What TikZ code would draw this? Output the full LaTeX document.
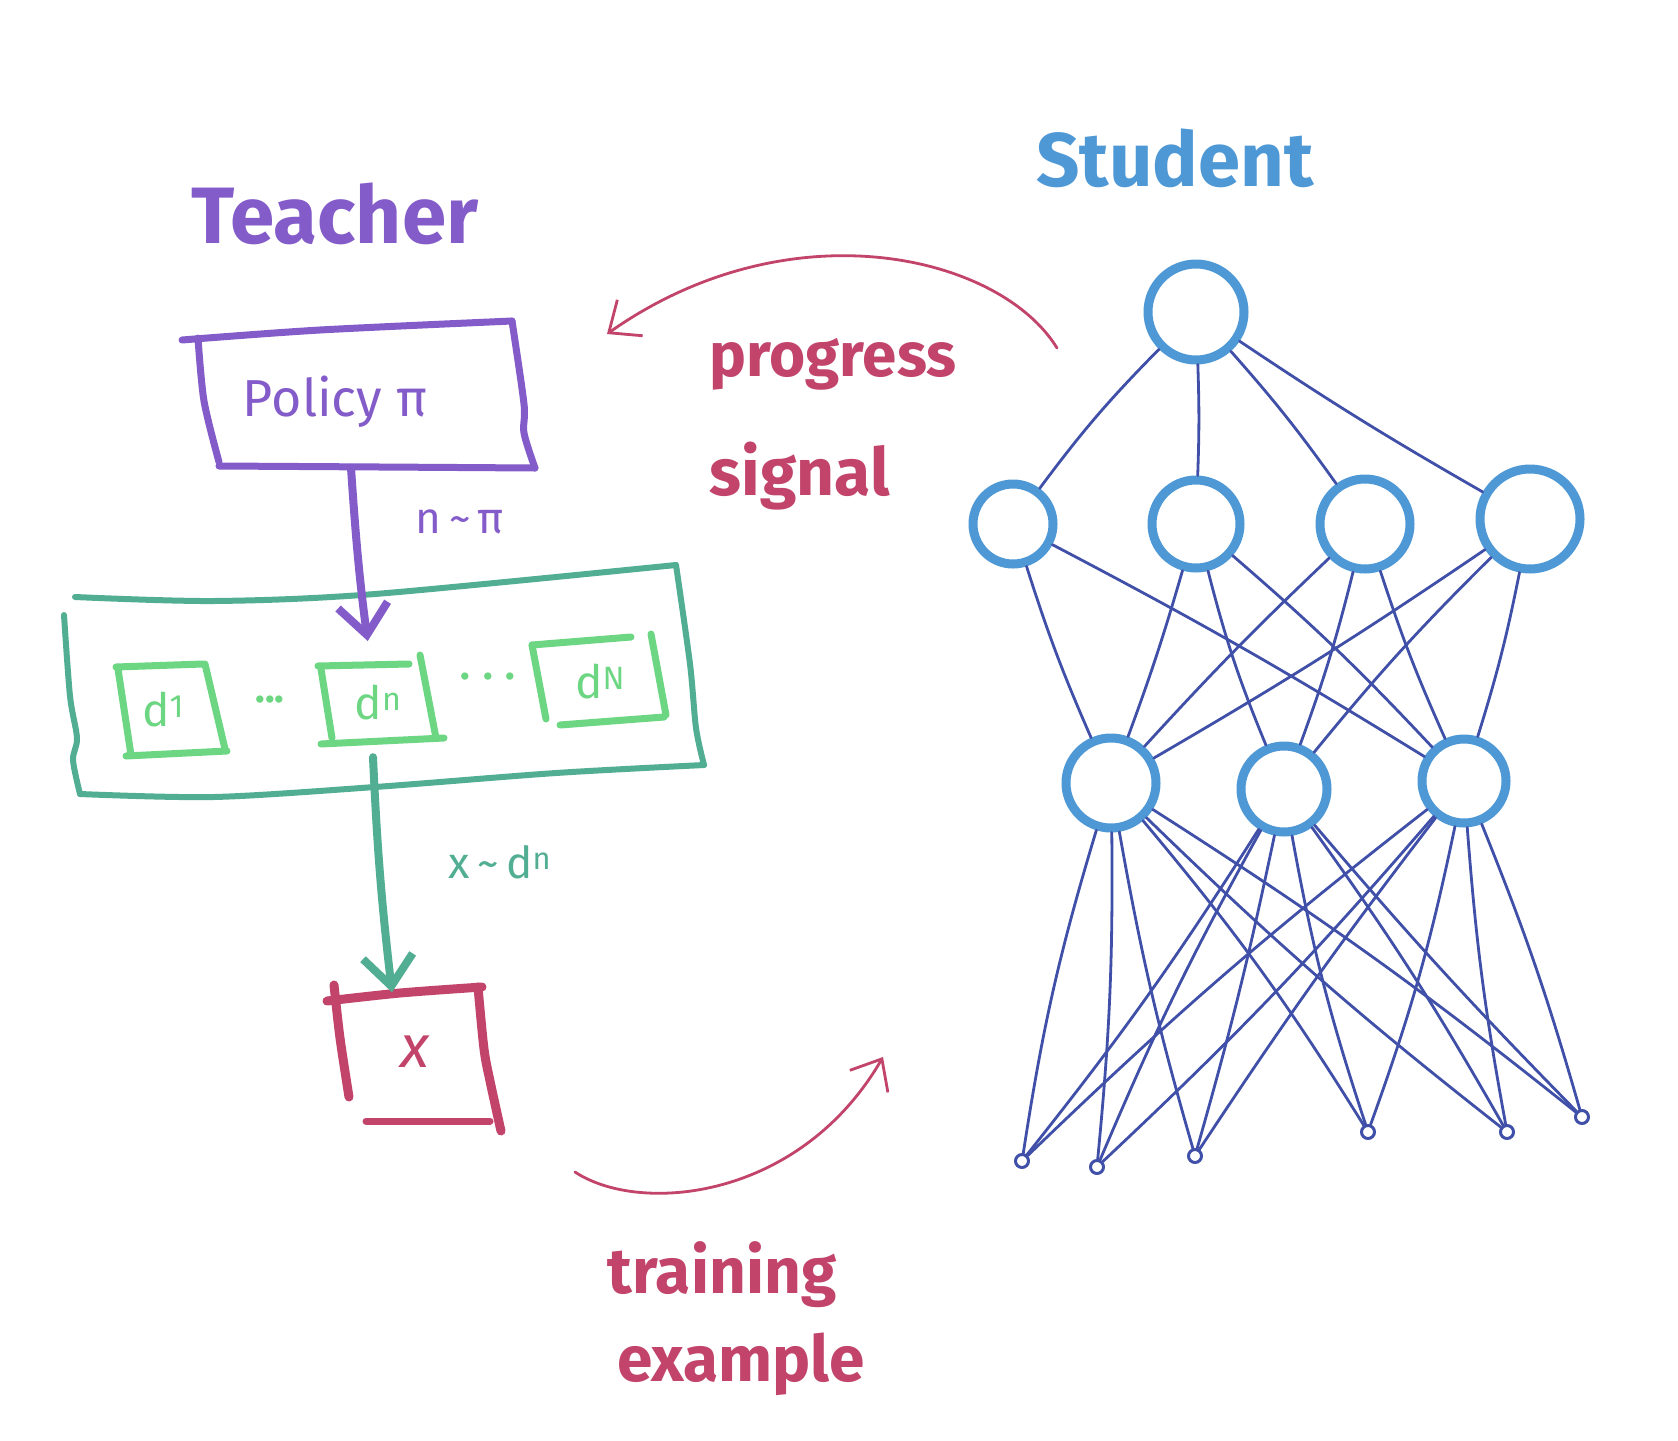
\documentclass[tikz,border=0pt]{standalone}
\usepackage{fontspec}
\setmainfont{Fira Sans}
\usetikzlibrary{arrows.meta,calc}
\definecolor{tpurple}{HTML}{845CC9}
\definecolor{sblue}{HTML}{4E98D5}
\definecolor{edgeblue}{HTML}{4050A8}
\definecolor{dgreen}{HTML}{52AE92}
\definecolor{lgreen}{HTML}{6DD683}
\definecolor{crim}{HTML}{C2446B}
\begin{document}
\begin{tikzpicture}[x=1pt,y=-1pt,line cap=round,line join=round,
  neuron/.style={circle,draw=sblue,line width=9pt,inner sep=0pt,minimum size=#1},
  leaf/.style={circle,draw=edgeblue,line width=3pt,inner sep=0pt,minimum size=13pt},
  nnedge/.style={draw=edgeblue,line width=2.8pt},
  slot/.style={inner sep=0pt,text=lgreen,font=\fontsize{46}{50}\selectfont},
  purpline/.style={draw=tpurple,line width=7pt},
  dgline/.style={draw=dgreen,line width=6pt},
  lgline/.style={draw=lgreen,line width=7pt},
  crline/.style={draw=crim,line width=9pt},
  bigarrow/.style={-{Straight Barb[length=30pt,width=50pt]}},
  thinarrow/.style={draw=crim,line width=2.8pt,-{Straight Barb[length=26pt,width=44pt]}}]
\useasboundingbox[fill=white] (0,0) rectangle (1678,1440);

% ---------- titles ----------
\node[text=tpurple,font=\bfseries\fontsize{80}{90}\selectfont] (teacher) at (335,214) {Teacher};
\node[text=sblue,font=\bfseries\fontsize{76}{86}\selectfont] (student) at (1175,158) {Student};

% ---------- policy box ----------
\node[minimum width=320pt,minimum height=135pt,inner sep=0pt] (policy) at (358,400) {};
\node[text=tpurple,font=\fontsize{52}{58}\selectfont] (policytxt) at (335,402) {Policy π};
\draw[purpline] plot[smooth] coordinates {(182,340)(320,330)(512,321)};
\draw[purpline] plot[smooth] coordinates {(198,338)(204,401)(219,462)};
\draw[purpline] plot[smooth] coordinates {(219,466)(380,467)(535,468)};
\draw[purpline] plot[smooth] coordinates {(512,321)(524,404)(524,433)(535,468)};

% ---------- pool of d boxes ----------
\node[minimum width=620pt,minimum height=190pt,inner sep=0pt] (pool) at (385,680) {};
\draw[dgline] plot[smooth] coordinates {(75,597)(214,601)(375,594)(676,565)};
\draw[dgline] plot[smooth] coordinates {(676,565)(690,664)(696,728)(704,765)};
\draw[dgline] plot[smooth] coordinates {(80,794)(214,797)(375,787)(556,773)(704,765)};
\draw[dgline] plot[smooth] coordinates {(64,615)(70,696)(77,738)(73,760)(80,794)};

\node[slot,minimum width=100pt,minimum height=85pt] (d1) at (170,710) {};
\node[slot] at (163,710) {d\textsuperscript{1}};
\draw[lgline] (116,667) -- (203,664);
\draw[lgline] (118,669) -- (131,755);
\draw[lgline] (126,756) -- (227,751);
\draw[lgline] (205,664) -- (225,749);

\node[slot,minimum width=110pt,minimum height=76pt] (dn) at (381,703) {};
\node[slot] at (378,703) {d\textsuperscript{n}};
\draw[lgline] (318,666) -- (409,664);
\draw[lgline] (321,669) -- (332,738);
\draw[lgline] (321,744) -- (444,738);
\draw[lgline] (420,655) -- (436,738);

\node[slot,minimum width=125pt,minimum height=80pt] (dN) at (598,680) {};
\node[slot] at (600,682) {d\textsuperscript{N}};
\draw[lgline] (532,645) -- (631,637);
\draw[lgline] (532,645) -- (546,719);
\draw[lgline] (560,725) -- (664,717);
\draw[lgline] (651,634) -- (666,715);

\node[slot,font=\bfseries\fontsize{40}{44}\selectfont] (dotsa) at (270,700) {...};
\node[slot,font=\bfseries\fontsize{40}{44}\selectfont] (dotsb) at (488,677) {. . .};

% ---------- purple sampling arrow ----------
\draw[purpline,line width=8pt,bigarrow,shorten >=24pt]
  ([xshift=-7pt]policy.south) to[bend right=2] ([xshift=-10pt]dn.north);
\node[text=tpurple,font=\fontsize{44}{50}\selectfont] (nlabel) at (460,522) {n\,\textasciitilde\,π};

% ---------- example box ----------
\node[minimum width=160pt,minimum height=135pt,inner sep=0pt] (xbox) at (414,1060) {};
\node[text=crim,font=\itshape\fontsize{60}{66}\selectfont] (xtxt) at (415,1052) {x};
\draw[crline] plot[smooth] coordinates {(327,1001)(400,993)(482,987)};
\draw[crline] plot[smooth] coordinates {(334,985)(340,1038)(349,1097)};
\draw[crline] plot[smooth] coordinates {(478,987)(484,1049)(490,1081)(501,1131)};
\draw[crline,line width=7pt] (366,1121) -- (490,1121);

% ---------- green selection arrow ----------
\draw[dgline,line width=8pt,bigarrow]
  ([xshift=-8pt,yshift=-16pt]dn.south) to[bend right=2] ([xshift=-22pt]xbox.north);
\node[text=dgreen,font=\fontsize{44}{50}\selectfont] (xlabel) at (500,862) {x\,\textasciitilde\,d\textsuperscript{n}};

% ---------- curved arrows ----------
\coordinate (trs) at (575,1172);
\coordinate (tre) at (883,1057);
\draw[thinarrow] (trs) .. controls (640,1215) and (800,1200) .. (tre);
\node[text=crim,font=\bfseries\fontsize{64}{70}\selectfont] (training) at (722,1275) {training};
\node[text=crim,font=\bfseries\fontsize{64}{70}\selectfont] (example) at (741,1364) {example};

\coordinate (prs) at (1057,348);
\coordinate (pre) at (607,334);
\draw[thinarrow] (prs) .. controls (1000,255) and (790,205) .. (pre);
\node[text=crim,font=\bfseries\fontsize{62}{68}\selectfont] (progress) at (833,364) {progress};
\node[text=crim,font=\bfseries\fontsize{66}{72}\selectfont] (signal) at (800,476) {signal};

% ---------- network ----------
\node[neuron=96pt] (n0) at (1196,312) {};
\node[neuron=80pt] (n1) at (1013,524) {};
\node[neuron=88pt] (n2) at (1196,524) {};
\node[neuron=90pt] (n3) at (1365,524) {};
\node[neuron=100pt] (n4) at (1530,519) {};
\node[neuron=90pt] (m1) at (1111,783) {};
\node[neuron=86pt] (m2) at (1284,789) {};
\node[neuron=84pt] (m3) at (1464,781) {};
\node[leaf] (o1) at (1022,1161) {};
\node[leaf] (o2) at (1097,1167) {};
\node[leaf] (o3) at (1195,1156) {};
\node[leaf] (o4) at (1368,1132) {};
\node[leaf] (o5) at (1507,1132) {};
\node[leaf] (o6) at (1582,1117) {};

\foreach \s/\t/\b in {n0/n1/-4,n0/n2/2,n0/n3/3,n0/n4/-2,
  n1/m1/-3,n1/m3/2,n2/m1/2,n2/m2/-4,n2/m3/3,
  n3/m1/-2,n3/m2/3,n3/m3/-3,n4/m1/2,n4/m2/-3,n4/m3/3,
  m1/o1/-4,m1/o2/3,m1/o3/-3,m1/o4/4,m1/o5/-3,m1/o6/3,
  m2/o1/3,m2/o2/-3,m2/o3/2,m2/o4/-4,m2/o5/3,m2/o6/-2,
  m3/o1/-3,m3/o2/3,m3/o3/-2,m3/o4/4,m3/o5/-3,m3/o6/3}
  {\draw[nnedge] (\s) to[bend left=\b] (\t);}
\end{tikzpicture}
\end{document}
